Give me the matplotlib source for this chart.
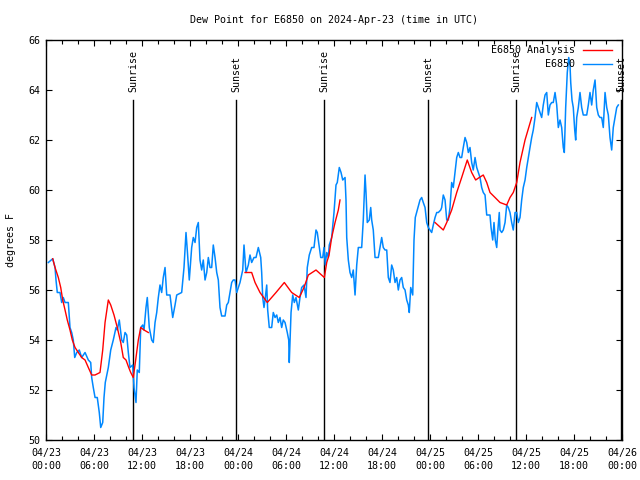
import matplotlib
matplotlib.use("Agg")
import matplotlib.pyplot as plt
import numpy as np

plt.rcParams['font.family'] = ['DejaVu Sans Mono']
FS = 7.2

title = "Dew Point for E6850 on 2024-Apr-23 (time in UTC)"
ylabel = "degrees F"

# hours since 2024-04-23 00:00 UTC
obs_hours = [0.29, 0.84, 1.13, 1.25, 1.41, 1.75, 1.96, 2.16, 2.38, 2.79, 3.0, 3.21, 3.41, 3.59, 3.84, 4.16, 4.46, 4.88,
             5.29, 5.59, 5.71, 5.91, 6.13, 6.41, 6.66, 6.84, 7.09, 7.25, 7.41, 7.79, 8.09, 8.41, 8.75, 8.91, 9.16, 9.46,
             9.66, 9.88, 10.09, 10.29, 10.5, 10.84, 11.0, 11.25, 11.41, 11.66, 11.84, 12.09, 12.25, 12.5, 12.66, 12.91,
             13.21, 13.41, 13.63, 13.84, 14.04, 14.25, 14.46, 14.66, 14.88, 15.09, 15.5, 15.84, 16.13, 16.34, 16.96,
             17.25, 17.5, 17.66, 17.91, 18.21, 18.41, 18.63, 18.84, 19.04, 19.25, 19.46, 19.66, 19.88, 20.09, 20.29,
             20.5, 20.71, 20.91, 21.13, 21.34, 21.54, 21.75, 21.96, 22.38, 22.59, 22.79, 23.0, 23.21, 23.41, 23.63,
             23.84, 24.25, 24.59, 24.75, 25.0, 25.29, 25.5, 25.71, 26.0, 26.25, 26.54, 26.84, 26.96, 27.09, 27.25,
             27.38, 27.59, 27.71, 27.91, 28.21, 28.41, 28.63, 28.84, 29.04, 29.25, 29.46, 29.66, 29.88, 30.16, 30.34,
             30.41, 30.63, 30.84, 31.04, 31.25, 31.54, 31.75, 31.96, 32.25, 32.5, 32.66, 32.91, 33.21, 33.5, 33.75,
             33.91, 34.16, 34.34, 34.59, 34.75, 34.91, 35.09, 35.29, 35.41, 35.71, 36.0, 36.25, 36.41, 36.66, 36.88,
             37.09, 37.38, 37.5, 37.59, 37.79, 38.0, 38.21, 38.41, 38.63, 38.84, 39.04, 39.46, 39.66, 39.88, 40.0,
             40.16, 40.41, 40.59, 40.71, 40.91, 41.13, 41.54, 41.75, 41.96, 42.16, 42.38, 42.59, 42.79, 43.0, 43.21,
             43.41, 43.63, 43.84, 44.04, 44.25, 44.46, 44.66, 44.88, 45.09, 45.29, 45.41, 45.59, 45.84, 46.0, 46.16,
             46.41, 46.75, 46.96, 47.16, 47.38, 47.59, 47.79, 48.0, 48.21, 48.41, 48.63, 48.84, 49.04, 49.34, 49.46,
             49.66, 49.88, 50.09, 50.29, 50.5, 50.71, 50.91, 51.13, 51.34, 51.54, 51.75, 51.96, 52.16, 52.38, 52.59,
             52.79, 53.0, 53.21, 53.41, 53.63, 53.84, 54.04, 54.25, 54.46, 54.66, 54.88, 55.09, 55.5, 55.63, 55.84,
             56.0, 56.16, 56.34, 56.46, 56.66, 56.75, 56.96, 57.16, 57.38, 57.59, 57.79, 58.0, 58.21, 58.41, 58.63,
             58.84, 59.04, 59.25, 59.46, 59.66, 59.88, 60.09, 60.29, 60.5, 60.71, 60.91, 61.13, 61.34, 61.54, 61.75,
             61.96, 62.16, 62.38, 62.59, 62.79, 63.0, 63.21, 63.41, 63.63, 63.84, 64.04, 64.25, 64.46, 64.66, 64.79,
             64.96, 65.16, 65.34, 65.5, 65.59, 65.75, 65.91, 66.09, 66.21, 66.34, 66.54, 66.75, 66.96, 67.16, 67.59,
             67.79, 68.0, 68.21, 68.41, 68.63, 68.84, 69.04, 69.25, 69.46, 69.66, 69.88, 70.09, 70.29, 70.5, 70.71,
             70.91, 71.13, 71.34, 71.54]
obs_dewpt = [57.1, 57.25, 56.9, 56.4, 55.9, 55.9, 55.5, 55.7, 55.5, 55.5, 54.5, 54.3, 54.0, 53.3, 53.5, 53.6, 53.3, 53.5,
             53.2, 53.1, 52.5, 52.1, 51.7, 51.7, 51.1, 50.5, 50.7, 51.7, 52.3, 52.9, 53.6, 54.0, 54.5, 54.4, 54.8, 54.0,
             53.9, 54.3, 54.2, 53.5, 52.9, 53.0, 52.1, 51.5, 52.8, 52.7, 54.5, 54.6, 54.4, 55.3, 55.7, 54.5,
             54.0, 53.9, 54.7, 55.1, 55.7, 56.2, 55.9, 56.5, 56.9, 55.8, 55.8, 54.9, 55.4, 55.8, 55.9,
             56.9, 58.3, 57.6, 56.4, 57.7, 58.1, 57.9, 58.5, 58.7, 57.2, 56.8, 57.2, 56.4, 56.7, 57.3,
             56.9, 56.9, 57.8, 57.3, 56.7, 56.4, 55.3, 54.96, 54.96, 55.4, 55.5, 55.9, 56.3, 56.4, 56.4,
             55.9, 56.3, 56.8, 57.8, 56.7, 57.0, 57.4, 57.1, 57.3, 57.3, 57.7, 57.3, 56.7, 55.7, 55.3,
             55.6, 56.2, 55.2, 54.5, 54.5, 55.1, 54.9, 55.0, 54.7, 54.9, 54.5, 54.8, 54.7, 54.3, 54.0,
             53.1, 55.1, 55.8, 55.5, 55.7, 55.2, 55.7, 56.1, 56.2, 55.7, 56.9, 57.4, 57.7, 57.7, 58.4,
             58.3, 57.7, 57.3, 57.3, 57.7, 57.0, 57.5, 57.3, 57.8, 58.1, 59.1, 60.2, 60.3, 60.9, 60.7,
             60.4, 60.5, 59.6, 58.1, 57.2, 56.7, 56.5, 56.8, 55.8, 57.0, 57.7, 57.7, 58.8, 60.6, 59.9,
             58.7, 58.8, 59.3, 58.8, 58.4, 57.3, 57.3, 57.7, 58.1, 57.7, 57.6, 57.6, 56.5, 56.3, 57.0,
             56.8, 56.3, 56.5, 56.0, 56.4, 56.5, 56.1, 56.0, 55.6, 55.4, 55.1, 56.1, 55.8, 58.0, 58.9,
             59.2, 59.6, 59.7, 59.5, 59.3, 58.7, 58.5, 58.4, 58.3, 58.6, 58.9, 59.1, 59.1, 59.2, 59.3,
             59.8, 59.6, 58.8, 58.8, 59.3, 60.3, 60.1, 60.7, 61.3, 61.5, 61.3, 61.3, 61.7, 62.1, 61.9,
             61.5, 61.7, 61.1, 60.8, 61.3, 60.9, 60.7, 60.5, 60.1, 59.9, 59.8, 59.0, 59.0, 58.5, 58.0,
             58.7, 58.0, 57.7, 58.3, 59.1, 58.4, 58.3, 58.4, 58.7, 59.4, 59.3, 59.1, 58.7, 58.4, 59.1,
             59.1, 58.7, 58.9, 59.6, 60.1, 60.4, 60.9, 61.3, 61.7, 62.1, 62.4, 62.9, 63.5, 63.3, 63.1,
             62.9, 63.4, 63.8, 63.9, 63.0, 63.4, 63.5, 63.5, 63.9, 63.4, 62.5, 62.8, 62.5, 61.7, 61.5,
             63.3, 64.7, 65.3, 65.0, 64.3, 63.6, 63.3, 62.4, 62.0, 62.9, 63.3, 63.9, 63.3, 63.0, 63.0,
             63.4, 63.9, 63.4, 64.0, 64.4, 63.3, 63.0, 62.9, 62.9, 62.5, 63.9, 63.3, 63.0, 62.1, 61.6,
             62.5, 62.9, 63.3, 63.4]

ana1_hours = [0.84, 1.13, 1.54, 1.84, 2.09, 2.38, 2.66, 3.0, 3.29, 3.63, 4.04, 4.46, 4.88, 5.29, 5.71, 6.13, 6.75,
              7.09, 7.38, 7.79, 8.09, 8.5, 8.91, 9.34, 9.66, 10.0, 10.34, 10.59, 10.91, 11.21, 11.54, 11.84, 12.25, 12.79]
ana1_dewpt = [57.25, 56.9, 56.5, 56.1, 55.6, 55.2, 54.8, 54.4, 54.0, 53.7, 53.5, 53.3, 53.2, 52.9, 52.6, 52.6, 52.7,
              53.6, 54.7, 55.6, 55.4, 55.0, 54.5, 53.9, 53.3, 53.2, 52.9, 52.7, 52.5, 53.2, 54.0, 54.5, 54.4, 54.3]
ana2_hours = [24.88, 25.71, 26.13, 26.75, 27.66, 28.75, 29.79, 30.71, 31.66, 32.25, 32.79, 33.75, 34.79, 35.09,
              35.38, 35.71, 36.13, 36.54, 36.75]
ana2_dewpt = [56.7, 56.7, 56.3, 55.9, 55.5, 55.9, 56.3, 55.9, 55.7, 56.1, 56.6, 56.8, 56.5, 57.1, 57.4, 58.1, 58.7,
              59.2, 59.6]
ana3_hours = [48.63, 49.66, 50.09, 50.71, 51.34, 51.96, 52.66, 53.21, 53.71, 54.16, 54.66, 55.09, 55.5, 56.13, 56.75,
              57.59, 58.0, 58.41, 58.84, 59.25, 59.88, 60.71]
ana3_dewpt = [58.7, 58.4, 58.7, 59.2, 59.9, 60.5, 61.2, 60.7, 60.4, 60.5, 60.6, 60.3, 59.9, 59.7, 59.5, 59.4, 59.7,
              59.9, 60.3, 61.1, 62.0, 62.9]

sun_hours = [10.875, 23.75, 34.75, 47.75, 58.75, 71.9]
sun_labels = ["Sunrise", "Sunset", "Sunrise", "Sunset", "Sunrise", "Sunset"]

xtick_hours = [0, 6, 12, 18, 24, 30, 36, 42, 48, 54, 60, 66, 72]
xtick_labels = ["04/23\n00:00", "04/23\n06:00", "04/23\n12:00", "04/23\n18:00",
                "04/24\n00:00", "04/24\n06:00", "04/24\n12:00", "04/24\n18:00",
                "04/25\n00:00", "04/25\n06:00", "04/25\n12:00", "04/25\n18:00",
                "04/26\n00:00"]
yticks = [50, 52, 54, 56, 58, 60, 62, 64, 66]

RED = '#ff0000'
BLUE = '#0088ff'

fig = plt.figure(figsize=(6.4, 4.8), dpi=100)
ax = fig.add_axes([46/640, 40/480, 576/640, 400/480])

ax.plot(obs_hours, obs_dewpt, color=BLUE, lw=1.1, zorder=3)
ana_h = ana1_hours + [np.nan] + ana2_hours + [np.nan] + ana3_hours
ana_v = ana1_dewpt + [np.nan] + ana2_dewpt + [np.nan] + ana3_dewpt
ax.plot(ana_h, ana_v, color=RED, lw=1.0, zorder=4)

for h, lab in zip(sun_hours, sun_labels):
    ax.plot([h, h], [50, 63.6], color='black', lw=1.0, zorder=2)
    ax.text(h, 63.93, lab, rotation=90, ha='center', va='bottom', fontsize=FS)

ax.set_xlim(0, 72)
ax.set_ylim(50, 66)
ax.set_xticks(xtick_hours)
ax.set_xticklabels(xtick_labels, fontsize=FS, linespacing=1.35)
ax.set_xticks(np.arange(0, 73, 2), minor=True)
ax.set_yticks(yticks)
ax.set_yticklabels([str(v) for v in yticks], fontsize=FS)
ax.tick_params(axis='both', which='major', direction='in', top=True, right=True,
               length=4.5, width=0.8, pad=4)
ax.tick_params(axis='both', which='minor', direction='in', top=True, right=True,
               length=3, width=0.8)
ax.tick_params(axis='x', which='major', pad=6)
for s in ax.spines.values():
    s.set_linewidth(1.0)

ax.set_title(title, fontsize=FS, pad=12.5)
ax.set_ylabel(ylabel, fontsize=FS, labelpad=9)

# legend (drawn manually in axes coordinates, gnuplot style)
leg_entries = [("E6850 Analysis", RED), ("E6850", BLUE)]
for i, (lab, col) in enumerate(leg_entries):
    yy = 1 - (10 + 14 * i) / 400
    ax.text((575 - 46) / 576, yy, lab, transform=ax.transAxes, ha='right', va='center', fontsize=FS, zorder=5)
    ax.plot([(583 - 46) / 576, (612 - 46) / 576], [yy, yy], transform=ax.transAxes, color=col, lw=1.0,
            clip_on=False, zorder=5)

fig.savefig("out.png", dpi=100)
